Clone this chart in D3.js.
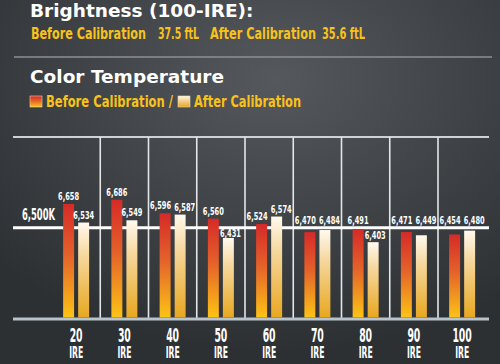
<!DOCTYPE html>
<html lang="en">
<head>
<meta charset="utf-8">
<title>Color Temperature</title>
<script src="https://cdn.jsdelivr.net/npm/d3@7"></script>
<style>
  body { margin: 0; background: #35383c; }
  svg { display: block; }
  .narrow { font-family: "DejaVu Sans Condensed", "DejaVu Sans", sans-serif; font-stretch: condensed; font-weight: bold; }
  .wide { font-family: "DejaVu Sans", "Open Sans", sans-serif; font-weight: bold; }
</style>
</head>
<body>
<script>
// data
var categories = ['20', '30', '40', '50', '60', '70', '80', '90', '100'];
var series     = ['Before Calibration', 'After Calibration'];
var before     = [6658, 6686, 6596, 6560, 6524, 6470, 6491, 6471, 6454];
var after      = [6534, 6549, 6587, 6431, 6574, 6484, 6403, 6449, 6480];
var target     = 6500;
var brightness = ['37.5 ftL', '35.6 ftL'];

var W = 500, H = 364;
var fmt = d3.format(',');

var svg = d3.select('body').append('svg')
    .attr('width', W)
    .attr('height', H);

var defs = svg.append('defs');

var bg = defs.append('radialGradient').attr('id', 'bg')
    .attr('cx', '55%').attr('cy', '22%').attr('r', '75%');
bg.append('stop').attr('offset', 0).attr('stop-color', '#55585c');
bg.append('stop').attr('offset', 1).attr('stop-color', '#2d3033');

function vgrad(id, stops) {
  var g = defs.append('linearGradient').attr('id', id)
      .attr('x1', 0).attr('y1', 0).attr('x2', 0).attr('y2', 1);
  stops.forEach(function(s){
    g.append('stop').attr('offset', s[0]).attr('stop-color', s[1]);
  });
}
vgrad('g0', [[0, '#d62a28'], [0.45, '#e4622a'], [1, '#fcc316']]);
vgrad('g1', [[0, '#fff9ee'], [0.35, '#f6d79c'], [1, '#e8a71f']]);

svg.append('rect').attr('width', W).attr('height', H).attr('fill', 'url(#bg)');

// condensed text squeezed to the width it has in the picture
function ntext(sel, x, y, size, w, str, anchor) {
  return sel.append('text').attr('class', 'narrow')
      .attr('x', x).attr('y', y)
      .attr('font-size', size)
      .attr('text-anchor', anchor || 'start')
      .attr('textLength', w)
      .attr('lengthAdjust', 'spacingAndGlyphs')
      .text(str);
}

// ---- headings
svg.append('text').attr('class', 'wide')
    .attr('x', 30).attr('y', 17)
    .attr('font-size', 18.5).attr('fill', '#fff')
    .text('Brightness (100-IRE):');

var yellow = '#f7c21b';
ntext(svg, 31, 39, 15, 115, series[0]).attr('fill', yellow);
ntext(svg, 158, 39, 15, 41, brightness[0]).attr('fill', yellow).attr('font-weight', 'normal');
ntext(svg, 210, 39, 15, 106, series[1]).attr('fill', yellow);
ntext(svg, 322, 39, 15, 43, brightness[1]).attr('fill', yellow).attr('font-weight', 'normal');

svg.append('line')
    .attr('x1', 14).attr('x2', 492).attr('y1', 57).attr('y2', 57)
    .attr('stroke', '#8d9094').attr('stroke-width', 1.5);

svg.append('text').attr('class', 'wide')
    .attr('x', 30).attr('y', 83)
    .attr('font-size', 18.5).attr('fill', '#fff')
    .text('Color Temperature');

// legend
var lg = svg.append('g');
var lx = [30, 178], lw = [127, 107];
series.forEach(function(s, i){
  lg.append('rect')
      .attr('x', lx[i]).attr('y', 96).attr('width', 12).attr('height', 11)
      .attr('fill', 'url(#g' + i + ')')
      .attr('stroke', '#e8d7b0').attr('stroke-width', 0.6);
  ntext(lg, lx[i] + 16, 107, 15, lw[i], i === 0 ? s + ' /' : s).attr('fill', yellow);
});

// ---- chart
var plotL = 13, plotR = 489, plotT = 137, plotB = 319;

var x = d3.scaleBand().domain(categories).range([52, 486.25]);
var x1 = d3.scaleBand().domain(series).range([0, 26]).paddingInner(0.27);
var y = d3.scaleLinear().domain([5890, 7105]).range([plotB, plotT]);

var off = (x.bandwidth() - 26) / 2;

svg.append('line')
    .attr('x1', plotL).attr('x2', plotR).attr('y1', plotT).attr('y2', plotT)
    .attr('stroke', '#cfd2d5').attr('stroke-width', 2);

svg.append('g').selectAll('line')
    .data(categories.slice(1))
  .enter().append('line')
    .attr('x1', function(d){ return x(d); })
    .attr('x2', function(d){ return x(d); })
    .attr('y1', plotT).attr('y2', plotB)
    .attr('stroke', '#e4e6e8').attr('stroke-width', 1.6);

svg.append('line')
    .attr('x1', plotL).attr('x2', plotR).attr('y1', plotB).attr('y2', plotB)
    .attr('stroke', '#b7c2c9').attr('stroke-width', 3);

// flatten into marks
var marks = [];
categories.forEach(function(c, i){
  [before[i], after[i]].forEach(function(v, j){
    marks.push({ cat: c, s: series[j], j: j, v: v });
  });
});

// value labels: bars just under the target line get their label lifted above it,
// lower ones keep theirs clear of the line
var lineY = y(target);
marks.forEach(function(m){
  var t = y(m.v);
  m.cx = x(m.cat) + off + x1(m.s) + x1.bandwidth() / 2;
  if (t > lineY - 2 && t < lineY + 9) m.ly = lineY - 4;
  else if (t > lineY) m.ly = Math.max(t - 3, lineY + 9.5);
  else m.ly = t - 4;
  m.lx = m.cx;
});
// push apart labels of the same group that sit on the same row
for (var i = 0; i < marks.length; i += 2) {
  var a = marks[i], b = marks[i + 1];
  if (Math.abs(a.ly - b.ly) < 8) { a.lx -= 4.5; b.lx += 4.5; }
  else if (b.ly > lineY) b.lx += 2;
}

svg.append('line')
    .attr('x1', plotL).attr('x2', plotR).attr('y1', lineY).attr('y2', lineY)
    .attr('stroke', '#ffffff').attr('stroke-width', 3);

ntext(svg, 22, lineY - 8, 15, 33, fmt(target) + 'K').attr('fill', '#fff');

svg.append('g').selectAll('rect')
    .data(marks)
  .enter().append('rect')
    .attr('x', function(d){ return x(d.cat) + off + x1(d.s); })
    .attr('y', function(d){ return y(d.v); })
    .attr('width', x1.bandwidth())
    .attr('height', function(d){ return plotB - 1.5 - y(d.v); })
    .attr('fill', function(d){ return 'url(#g' + d.j + ')'; });

var lab = svg.append('g');
marks.forEach(function(m){
  ntext(lab, m.lx, m.ly, 10, 21, fmt(m.v), 'middle').attr('fill', '#fff');
});

// x axis labels
var xl = svg.append('g');
categories.forEach(function(c){
  var cx = x(c) + x.bandwidth() / 2;
  ntext(xl, cx, 342, 19, 6.5 * c.length, c, 'middle').attr('fill', '#fff');
  ntext(xl, cx, 358, 15, 14, 'IRE', 'middle').attr('fill', '#fff');
});
</script>
</body>
</html>
